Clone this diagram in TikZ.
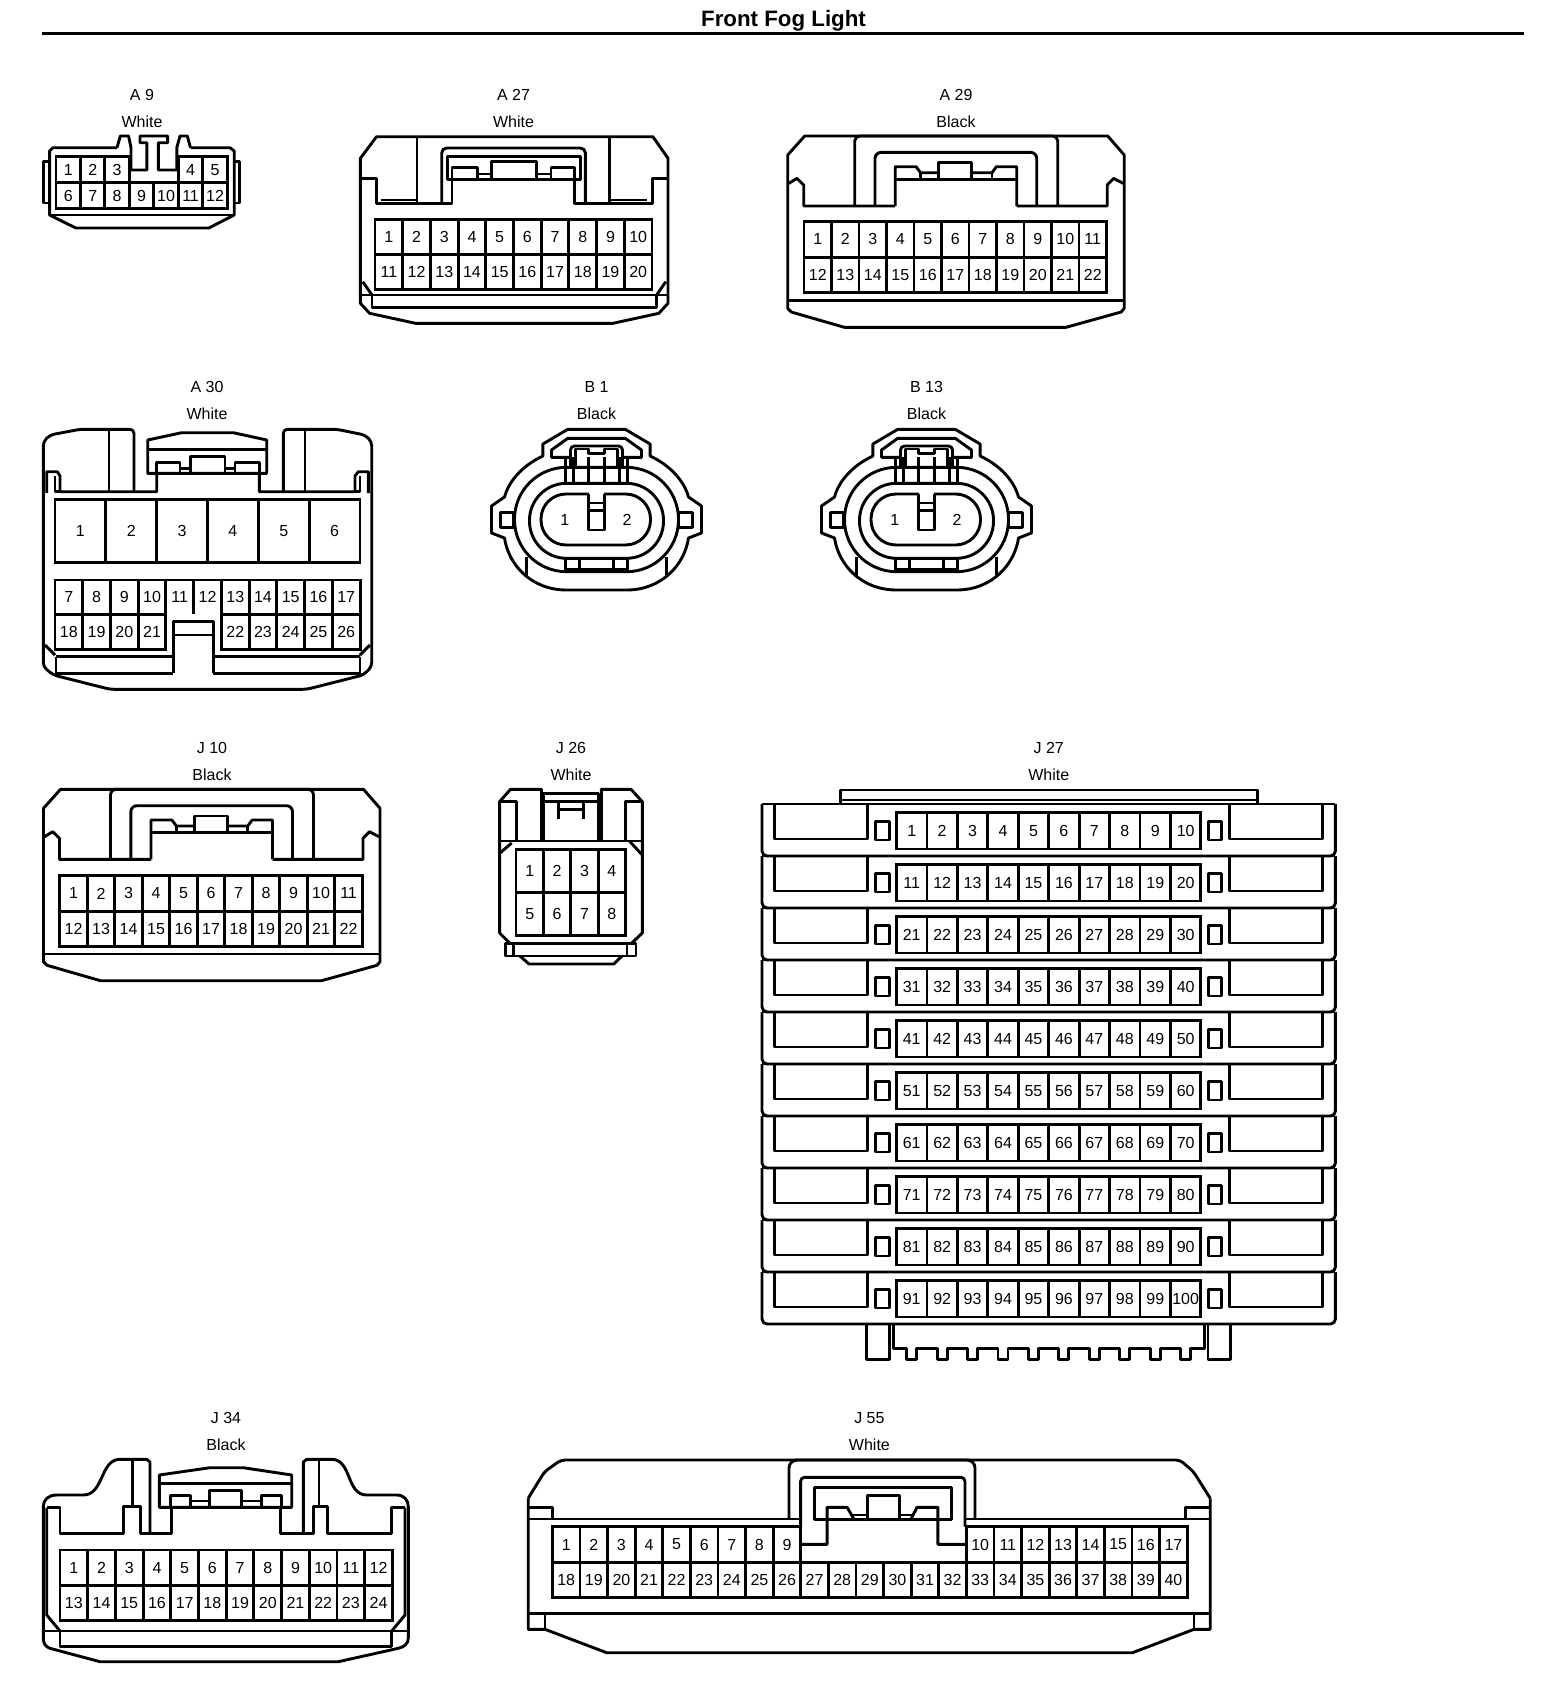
\documentclass[tikz,border=0pt]{standalone}
\usepackage{fontspec}
\setmainfont{Liberation Sans}
\usetikzlibrary{calc}

\tikzset{
	body/.style={line width=2.9pt,line join=round},
	pincell/.style={draw,line width=2.9pt,inner sep=0pt,outer sep=0pt,font=\fontsize{16}{16}\selectfont},
	pinnum/.style={inner sep=0pt,outer sep=0pt,font=\fontsize{16}{16}\selectfont},
	tag/.style={inner sep=0pt,font=\fontsize{16}{16}\selectfont},
	heading/.style={inner sep=0pt,font=\fontsize{22.3}{23}\selectfont\bfseries}
}

%one row of numbered cells: name, left, top, cell width, cell height, first pin, last pin
\newcommand{\pinrow}[7]{
	\foreach \n [count=\k from 0] in {#6,...,#7}
	{
		\node[pincell,minimum width=#4pt,minimum height=#5pt](#1\n) at ($(#2,#3)+{\k+.5}*(#4,0)+.5*(0,#5)$){\n};
	}
}

%the two line label over a connector
\newcommand{\conntag}[6]{
	\node[tag](#1id) at (#2,#3){#5};
	\node[tag](#1col) at (#2,#4){#6};
}

%housing shared by A 29 and J 10, local origin at its top left
\newcommand{\latchshell}{
	\draw[body] (17,0) -- (320,0) -- (336.5,19) -- (336.5,172.4) -- (333.5,176) -- (278,191.4) -- (57,191.4) -- (3.5,176) -- (0,172.4) -- (0,19) -- cycle;
	\draw[body] (0,164.7) -- (336.5,164.7);
	\draw[body] (1,47.4) -- (9.2,42.4) -- (16,49) -- (16,70) -- (107.5,70);
	\draw[body] (335.5,47.4) -- (326,42.4) -- (319.5,49) -- (319.5,70) -- (229,70);
	\draw[body,rounded corners=5pt] (67,70) -- (67,0) -- (270,0) -- (270,70);
	\draw[body,rounded corners=6pt] (87.3,70) -- (87.3,16.4) -- (249,16.4) -- (249,70);
	\draw[body] (107.5,70) -- (107.5,30.7) -- (128.4,30.7) -- (132.8,36.7) -- (150.7,36.7);
	\draw[body] (229,70) -- (229,30.7) -- (208.7,30.7) -- (204.3,36.7) -- (184.2,36.7);
	\draw[body] (150.7,43.4) -- (150.7,26.7) -- (184.2,26.7) -- (184.2,43.4);
	\draw[body] (107.5,43.4) -- (229,43.4);
	\draw[body] (132.8,36.7) -- (132.8,43.4);
	\draw[body] (204.3,36.7) -- (204.3,43.4);
}

%housing shared by B 1 and B 13, local origin at the middle of the pins
\newcommand{\roundshell}{
	\draw[body] (-28.7,-90.7) -- (28.7,-90.7) -- (53.6,-76) -- (53.6,-64) .. controls (75,-54) and (88,-38) .. (92,-23) -- (105,-14) -- (105,13) -- (92,18) .. controls (88,45) and (65,70) .. (30,70) -- (-30,70) .. controls (-65,70) and (-88,45) .. (-92,18) -- (-105,13) -- (-105,-14) -- (-92,-23) .. controls (-88,-38) and (-75,-54) .. (-53.6,-64) -- (-53.6,-76) -- cycle;
	\draw[body,rounded corners=52pt] (-82,-52.7) rectangle (82,51.7);
	\draw[body,rounded corners=37pt] (-67,-36.7) rectangle (67,38.3);
	\draw[body,rounded corners=25pt] (-7.7,-26) -- (-55.5,-26) -- (-55.5,25) -- (54,25) -- (54,-26) -- (7.7,-26);
	\draw[body] (-7.7,-26) -- (-7.7,10) -- (7.7,10) -- (7.7,-26);
	\draw[body] (-7.7,-17) -- (7.7,-17);
	\draw[body] (-7.7,-9.3) -- (7.7,-9.3);
	\draw[body] (-96.4,-7.3) rectangle (-83.4,7.3);
	\draw[body] (82.3,-7.3) rectangle (95.7,7.3);
	\draw[body] (-26,-62.7) -- (-45,-62.7) -- (-45,-70) -- (-28.7,-81.7) -- (28.7,-81.7) -- (45,-70) -- (45,-62.7) -- (26,-62.7);
	\draw[body,rounded corners=4pt] (-26,-52.7) -- (-26,-74) -- (26,-74) -- (26,-52.7);
	\draw[body] (-21,-52.7) -- (-21,-71) -- (-8,-71) -- (-8,-66.7) -- (8,-66.7) -- (8,-71) -- (21,-71) -- (21,-52.7);
	\foreach \v in {-30.6,-23,-7.7,7.7,23,30.6}
	{
		\draw[body] (\v,-62.7) -- (\v,-36.7);
	}
	\draw[body] (-30.6,38.3) -- (-30.6,49.3) -- (30.6,49.3) -- (30.6,38.3);
	\draw[body] (-17,38.3) -- (-17,49.3);
	\draw[body] (17,38.3) -- (17,49.3);
	\draw[body] (-69.7,36.7) -- (-69.7,55);
	\draw[body] (69.7,36.7) -- (69.7,55);
}

\begin{document}
\begin{tikzpicture}[x=1pt,y=-1pt]
\useasboundingbox (0,0) rectangle (1568,1702);

%title
\node[heading](head) at (783.5,20.5){Front Fog Light};
\coordinate (ruleleft) at (42,33.7);
\coordinate (ruleright) at (1523.5,33.7);
\draw[line width=3pt] (ruleleft)--(ruleright);

%A 9
\conntag{a9}{142}{94.5}{122}{A 9}{White}
\draw[body] (117,147.7) -- (53,147.7) -- (49.6,151) -- (49.6,215) -- (75.8,228) -- (208.9,228) -- (234.2,215) -- (234.2,151) -- (230,147.7) -- (190.5,147.7);
\draw[body] (49.6,215) -- (234.2,215);
\draw[body] (49.6,161.7) -- (43.6,161.7) -- (43.6,203) -- (49.6,203);
\draw[body] (234.2,161.7) -- (239.7,161.7) -- (239.7,203) -- (234.2,203);
\draw[body] (117,147.7) -- (120.3,136) -- (128.6,136) -- (131,147.7) -- (131,170) -- (146.9,170) -- (146.9,142.7) -- (140,142.7) -- (140,136) -- (167.6,136) -- (167.6,142.7) -- (158.4,142.7) -- (158.4,170) -- (176.8,170) -- (176.8,147.7) -- (180,136) -- (187.3,136) -- (190.5,147.7);
\pinrow{a9}{56}{156.7}{24.47}{26}{1}{3}
\pinrow{a9}{178.35}{156.7}{24.47}{26}{4}{5}
\pinrow{a9}{56}{182.7}{24.47}{26}{6}{12}

%A 27
\conntag{a27}{513.5}{94.5}{122}{A 27}{White}
\draw[body] (376.5,136.7) -- (652.9,136.7) -- (668,158.3) -- (668,303.3) -- (658.9,313.3) -- (613,323.3) -- (415.5,323.3) -- (369.6,313.3) -- (360.4,303.3) -- (360.4,158.3) -- cycle;
\draw[body] (417,136.7) -- (417,203.3);
\draw[body] (609.7,136.7) -- (609.7,203.3);
\draw[body] (360.4,178.3) -- (376.5,178.3) -- (376.5,203.3) -- (452,203.3) -- (452,179.3);
\draw[body] (668,178.3) -- (652.9,178.3) -- (652.9,203.3) -- (574.8,203.3) -- (574.8,179.3);
\draw[body] (381,200) -- (417,200);
\draw[body] (610.6,200) -- (647.4,200);
\draw[body,rounded corners=5pt] (441.7,203.3) -- (441.7,148) -- (585.4,148) -- (585.4,203.3);
\draw[body] (447.7,156.7) rectangle (580.8,179.3);
\draw[body] (452,167.3) rectangle (477.5,179.3);
\draw[body] (491.3,161.7) rectangle (536.3,179.3);
\draw[body] (551,167.3) rectangle (574.8,179.3);
\draw[body] (477.5,174) -- (491.3,174);
\draw[body] (536.3,174) -- (551,174);
\pinrow{a27}{375}{219.3}{27.7}{35}{1}{10}
\pinrow{a27}{375}{254.3}{27.7}{35}{11}{20}
\draw[body] (360.4,295) -- (668,295);
\draw[body] (372,295) -- (372,307.3) -- (656.6,307.3) -- (656.6,295);
\draw[body] (362.7,281.7) -- (372,295);
\draw[body] (665.8,281.7) -- (656.6,295);

%A 29
\conntag{a29}{956}{94.5}{122}{A 29}{Black}
\begin{scope}[shift={(787.7,136)}]
\latchshell
\pinrow{a29}{16.3}{85.5}{27.5}{35.6}{1}{11}
\pinrow{a29}{16.3}{121.1}{27.5}{35.6}{12}{22}
\end{scope}

%A 30
\conntag{a30}{207}{387}{414}{A 30}{White}
\draw[body,rounded corners=4pt] (134,491.7) -- (134,429.3) -- (80,429.3) -- (50,435) -- (43.3,441.7) -- (43.3,666.7) -- (53.3,675) -- (110,689.3) -- (306.7,689.3) -- (363.3,675) -- (371.7,666.7) -- (371.7,441.7) -- (365,435) -- (336.7,429.3) -- (283.3,429.3) -- (283.3,491.7);
\draw[body] (109,429.3) -- (109,491.7);
\draw[body] (305,429.3) -- (305,491.7);
\draw[body] (46.7,493) -- (46.7,471.7) -- (57.3,471.7) -- (60,476) -- (60,491.7) -- (156.7,491.7) -- (156.7,473.3);
\draw[body] (368.3,493) -- (368.3,471.7) -- (358.3,471.7) -- (355,476) -- (355,491.7) -- (259.3,491.7) -- (259.3,473.3);
\draw[body] (55,476) -- (55,491.7) -- (60,491.7);
\draw[body] (360,476) -- (360,491.7) -- (355,491.7);
\draw[body] (147.7,473.3) -- (147.7,440) -- (181.7,432.7) -- (233.3,432.7) -- (266.7,440) -- (266.7,473.3) -- cycle;
\draw[body] (147.7,449.3) -- (266.7,449.3);
\draw[body] (156.7,462.3) rectangle (180,473.3);
\draw[body] (190.7,456.7) rectangle (225,473.3);
\draw[body] (235,462.3) rectangle (259.3,473.3);
\draw[body] (180,468.3) -- (190.7,468.3);
\draw[body] (225,468.3) -- (235,468.3);
\pinrow{a30}{55}{499.3}{50.83}{63.4}{1}{6}
\pinrow{a30}{55}{580}{27.73}{34.3}{7}{10}
\node[pinnum](a3011) at (179.8,597.2){11};
\node[pinnum](a3012) at (207.5,597.2){12};
\draw[body] (165.9,580) -- (221.4,580);
\draw[body] (193.6,580) -- (193.6,614.3);
\pinrow{a30}{221.4}{580}{27.73}{34.3}{13}{17}
\pinrow{a30}{55}{614.3}{27.73}{35}{18}{21}
\pinrow{a30}{221.4}{614.3}{27.73}{35}{22}{26}
\draw[body] (173.3,673.3) -- (173.3,621.7) -- (213.3,621.7) -- (213.3,673.3);
\draw[body] (173.3,635) -- (213.3,635);
\draw[body] (56,656.7) -- (173.3,656.7);
\draw[body] (213.3,656.7) -- (360,656.7);
\draw[body] (56,656.7) -- (56,673.3) -- (173.3,673.3);
\draw[body] (360,656.7) -- (360,673.3) -- (213.3,673.3);
\draw[body] (45,645) -- (55,655);
\draw[body] (370,645) -- (360,655);

%B 1 and B 13
\conntag{b1}{596.5}{387}{414}{B 1}{Black}
\begin{scope}[shift={(596.5,520)}]
\roundshell
\node[pinnum](b1p1) at (-31.8,0){1};
\node[pinnum](b1p2) at (30.6,0){2};
\end{scope}
\conntag{b13}{926.5}{387}{414}{B 13}{Black}
\begin{scope}[shift={(926.5,520)}]
\roundshell
\node[pinnum](b13p1) at (-31.8,0){1};
\node[pinnum](b13p2) at (30.6,0){2};
\end{scope}

%J 10
\conntag{j10}{212}{747.8}{775}{J 10}{Black}
\begin{scope}[shift={(43.5,789.3)}]
\latchshell
\pinrow{j10}{16.3}{86.4}{27.5}{35.5}{1}{11}
\pinrow{j10}{16.3}{121.9}{27.5}{35.5}{12}{22}
\end{scope}

%J 26
\conntag{j26}{571}{747.8}{775}{J 26}{White}
\draw[body] (541.5,840) -- (541.5,789.3) -- (510.5,789.3) -- (499.6,801.7) -- (499.6,933) -- (510,943.3);
\draw[body] (601.3,840) -- (601.3,789.3) -- (631,789.3) -- (642.3,801.7) -- (642.3,933) -- (631.5,943.3);
\draw[body] (499.6,801.7) -- (516.5,801.7) -- (516.5,840);
\draw[body] (642.3,801.7) -- (625.3,801.7) -- (625.3,840);
\draw[body] (543.5,840) -- (543.5,793.3) -- (598.3,793.3) -- (598.3,840);
\draw[body] (543.5,801.7) -- (598.3,801.7);
\draw[body] (558.3,801.7) -- (558.3,819.3);
\draw[body] (583.3,801.7) -- (583.3,819.3);
\draw[body] (558.3,809.3) -- (583.3,809.3);
\draw[body] (499.6,841) -- (642.3,841);
\draw[body] (499.6,853.3) -- (511.7,843);
\draw[body] (642.3,855) -- (630,841.7);
\pinrow{j26}{516}{849.5}{27.4}{43.1}{1}{4}
\pinrow{j26}{516}{892.6}{27.4}{43.1}{5}{8}
\draw[body] (505.4,943.3) rectangle (636,956);
\draw[body] (513.4,943.3) -- (513.4,956);
\draw[body] (627,943.3) -- (627,956);
\draw[body] (520,956) -- (529,964) -- (613.8,964) -- (622,956);

%J 27
\conntag{j27}{1048.7}{747.8}{775}{J 27}{White}
\begin{scope}[shift={(1048.7,0)}]
\draw[body] (-208.4,804) -- (-208.4,790) -- (208.8,790) -- (208.8,804);
\draw[body] (-208.4,800) -- (208.8,800);
\foreach \r in {0,...,9}
{
	\pgfmathtruncatemacro{\rowfirst}{\r*10+1}
	\pgfmathtruncatemacro{\rowlast}{\r*10+10}
	\pgfmathsetmacro{\rowtop}{804+\r*52}
	\begin{scope}[shift={(0,\rowtop)}]
	\draw[body,rounded corners=5pt] (-286.7,0) -- (-286.7,52) -- (286.7,52) -- (286.7,0);
	\draw[body] (-286.7,0) -- (286.7,0);
	\draw[body] (-274,0) -- (-274,35) -- (-181,35) -- (-181,0);
	\draw[body] (274,0) -- (274,35) -- (181,35) -- (181,0);
	\draw[body] (-173,17.7) rectangle (-159.4,36);
	\draw[body] (159.4,17.7) rectangle (173,36);
	\pinrow{j27}{-152.2}{8.7}{30.44}{36.3}{\rowfirst}{\rowlast}
	\end{scope}
}
\draw[body] (-182,1324) -- (-182,1359.3) -- (-159.3,1359.3) -- (-159.3,1324);
\draw[body] (182,1324) -- (182,1359.3) -- (159.3,1359.3) -- (159.3,1324);
\draw[body] (-155.4,1324) -- (-155.4,1348.3) \foreach \t in {0,...,9} { -- ({-142+\t*30.44},1348.3) -- ({-142+\t*30.44},1359.3) -- ({-132+\t*30.44},1359.3) -- ({-132+\t*30.44},1348.3) } -- (155.4,1348.3) -- (155.4,1324);
\end{scope}

%J 34
\conntag{j34}{226}{1418.3}{1445}{J 34}{Black}
\draw[body] (150,1533.3) -- (150,1462) -- (146.7,1459.3) -- (120,1459.3) .. controls (100,1459.3) and (104,1495) .. (83.3,1495) -- (56.7,1495) .. controls (48,1495) and (43.3,1500) .. (43.3,1506.7) -- (43.3,1638) .. controls (43.3,1644) and (46,1647) .. (50,1648.3) -- (100,1661.7) -- (338.3,1661.7) -- (398.3,1648.3) .. controls (404,1647) and (408.3,1644) .. (408.3,1638) -- (408.3,1506.7) .. controls (408.3,1500) and (404,1495) .. (396.7,1495) -- (366.7,1495) .. controls (346,1495) and (352,1459.3) .. (331.6,1459.3) -- (306.7,1459.3) -- (303.3,1462) -- (303.3,1533.3);
\draw[body] (132.3,1459.3) -- (132.3,1506.7);
\draw[body] (319,1459.3) -- (319,1506.7);
\draw[body] (46.7,1507.7) -- (60,1507.7) -- (60,1533.3) -- (123.3,1533.3) -- (123.3,1506.7) -- (140.7,1506.7) -- (140.7,1533.3) -- (171.7,1533.3) -- (171.7,1507.3);
\draw[body] (405,1507.7) -- (391.7,1507.7) -- (391.7,1533.3) -- (327.3,1533.3) -- (327.3,1506.7) -- (313.3,1506.7) -- (313.3,1533.3) -- (280.7,1533.3) -- (280.7,1507.3);
\draw[body] (46.7,1507.7) -- (46.7,1615) -- (60,1631);
\draw[body] (405,1507.7) -- (405,1615) -- (391.7,1631);
\draw[body] (159.3,1507.3) -- (159.3,1475) -- (210,1467.7) -- (243.3,1467.7) -- (291.7,1475) -- (291.7,1507.3) -- cycle;
\draw[body] (159.3,1483.3) -- (291.7,1483.3);
\draw[body] (170.7,1495.7) rectangle (190.7,1507.3);
\draw[body] (209.3,1490.7) rectangle (241.7,1507.3);
\draw[body] (261.7,1495.7) rectangle (281.7,1507.3);
\draw[body] (190.7,1501) -- (209.3,1501);
\draw[body] (241.7,1501) -- (261.7,1501);
\pinrow{j34}{60}{1550}{27.7}{35.3}{1}{12}
\pinrow{j34}{60}{1585.3}{27.7}{35.3}{13}{24}
\draw[body] (43.3,1631) -- (408.3,1631);
\draw[body] (60,1631) -- (60,1646.7) -- (391.7,1646.7) -- (391.7,1631);

%J 55
\conntag{j55}{869.4}{1418}{1445}{J 55}{White}
\begin{scope}[shift={(869,0)}]
\draw[body,rounded corners=4pt] (-340.8,1498.3) -- (-324.5,1471.7) -- (-308,1460) -- (311,1460) -- (324.5,1471.7) -- (341.2,1498.3);
\draw[body] (-340.8,1498.3) -- (-340.8,1629.3) -- (-324,1629.3) -- (-262.3,1652.7) -- (263.5,1652.7) -- (325,1629.3) -- (341.2,1629.3) -- (341.2,1498.3);
\draw[body] (-340.8,1519) -- (-68.4,1519);
\draw[body] (96,1519) -- (341.2,1519);
\draw[body] (-340.8,1507.3) -- (-316.6,1507.3) -- (-316.6,1519);
\draw[body] (341.2,1507.3) -- (316.6,1507.3) -- (316.6,1519);
\draw[body,rounded corners=8pt] (-80,1519) -- (-80,1460) -- (106,1460) -- (106,1519);
\draw[body,rounded corners=4pt] (-68.4,1526.7) -- (-68.4,1477.3) -- (96,1477.3) -- (96,1526.7);
\draw[body] (-54.5,1487.3) rectangle (82.9,1519.3);
\draw[body] (-68.4,1544.3) -- (-41.9,1544.3) -- (-41.9,1507.3) -- (-21.9,1507.3) -- (-14.9,1519.3);
\draw[body] (96,1544.3) -- (68.9,1544.3) -- (68.9,1507.3) -- (48,1507.3) -- (41.9,1519.3);
\draw[body] (-18,1515) -- (-1.9,1515);
\draw[body] (30.7,1515) -- (44,1515);
\draw[body] (-1.9,1519.3) -- (-1.9,1495.7) -- (30.7,1495.7) -- (30.7,1519.3);
\pinrow{j55}{-316.6}{1526.7}{27.6}{35.6}{1}{9}
\pinrow{j55}{97.4}{1526.7}{27.6}{35.6}{10}{17}
\pinrow{j55}{-316.6}{1562.3}{27.6}{35}{18}{40}
\draw[body] (-340.8,1613.3) -- (341.2,1613.3);
\draw[body] (-324,1613.3) -- (-324,1629.3);
\draw[body] (325,1613.3) -- (325,1629.3);
\end{scope}
\end{tikzpicture}
\end{document}
